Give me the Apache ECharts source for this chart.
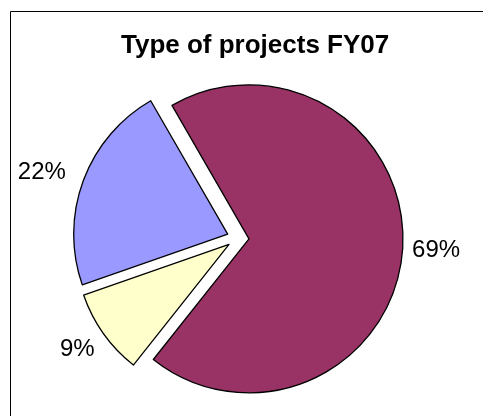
<!DOCTYPE html>
<html>
<head>
<meta charset="utf-8">
<script src="https://cdn.jsdelivr.net/npm/echarts@6/dist/echarts.min.js"></script>
<style>
html,body{margin:0;padding:0;background:#fff;}
#piechart{width:483px;height:416px;}
</style>
</head>
<body>
<div id="piechart"></div>
<script>
var titleText = 'Type of projects FY07';
var categories = ['Type A', 'Type B', 'Type C'];
var values = [69, 9, 22];
var colors = ['#993366', '#FFFFCC', '#9999FF'];
// label line lengths per slice (labels sit where Excel put them)
var labelLen = [4.5, 28, 24];
var labelLen2 = [0, -19, -10];

var pieData = [];
for (var i = 0; i < values.length; i++) {
	pieData.push({
		name: categories[i],
		value: values[i],
		selected: true,			// 整个饼图分离
		itemStyle: { color: colors[i] },
		select: { itemStyle: { color: colors[i], borderColor: '#000', borderWidth: 1.3 } },
		labelLine: { show: false, length: labelLen[i], length2: labelLen2[i] }
	});
}

var option = {
	animation: false,
	title: {
		text: titleText,
		left: 116,
		top: 28,
		textStyle: {
			fontFamily: 'Liberation Sans',
			fontWeight: 'bold',
			fontSize: 26,
			color: '#000'
		}
	},
	graphic: [{
		type: 'rect',
		shape: { x: 10.5, y: 11.5, width: 500, height: 500 },
		style: { fill: 'none', stroke: '#000', lineWidth: 1 },
		silent: true
	}],
	series: [{
		type: 'pie',
		center: [238, 238],
		radius: 154,
		startAngle: 120,		// 第一块从12点钟逆时针30度开始
		clockwise: true,
		selectedMode: 'multiple',
		selectedOffset: 11,
		avoidLabelOverlap: false,
		itemStyle: { borderColor: '#000', borderWidth: 1.3 },
		label: {
			show: true,
			position: 'outside',
			formatter: '{c}%',
			fontFamily: 'Liberation Sans',
			fontSize: 24,
			color: '#000'
		},
		labelLine: { show: false },
		emphasis: { disabled: true },
		data: pieData
	}]
};

var piechart = echarts.init(document.getElementById('piechart'));
piechart.setOption(option);
</script>
</body>
</html>
